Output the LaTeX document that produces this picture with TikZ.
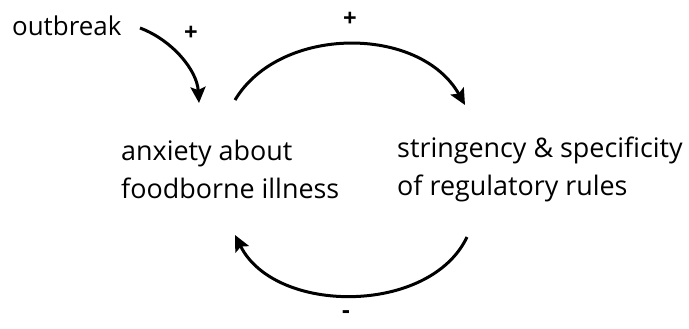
\documentclass[tikz,border=0pt]{standalone}
\usepackage{fontspec}
\setmainfont{Open Sans}
\usetikzlibrary{arrows.meta}
\tikzset{
	factor/.style={inner sep=0pt, align=left, font=\fontsize{27}{38}\selectfont},
	sign/.style={inner sep=0pt, font=\fontsize{24}{24}\selectfont\bfseries},
	link/.style={line width=3bp, -{Stealth[length=16bp,width=15bp,inset=3bp]}}
}

\begin{document}
\begin{tikzpicture}[x=1bp, y=-1bp]
			%%%%% START %%%%%
			\useasboundingbox (0, 0) rectangle (689, 328);
			
			\node[factor, anchor=base west, font=\fontsize{26}{38}\selectfont] (outbreak) at (12, 35) {outbreak};
			\node[factor, anchor=north west] (anxiety) at (121, 140) {anxiety about\\foodborne illness};
			\node[factor, anchor=north west] (rules) at (397, 137) {stringency \& specificity\\of regulatory rules};
			
			\node[sign] (plusOut) at (191, 33) {+};
			\node[sign] (plusTop) at (350, 19) {+};
			\node[sign] (minusBot) at (346, 315) {-};
			
			\draw[link] ([xshift=128bp, yshift=7bp]outbreak.base west) .. controls (172, 40) and (197, 70) .. ([xshift=78bp, yshift=37bp]anxiety.north west);
			\draw[link] ([xshift=114bp, yshift=40bp]anxiety.north west) .. controls (280, 25) and (420, 25) .. ([xshift=68bp, yshift=32bp]rules.north west);
			\draw[link] ([xshift=70bp, yshift=-100bp]rules.north west) .. controls (430, 315) and (275, 315) .. ([xshift=114bp, yshift=-95bp]anxiety.north west);
			
			%%%%% END %%%%%
		\end{tikzpicture}
\end{document}
